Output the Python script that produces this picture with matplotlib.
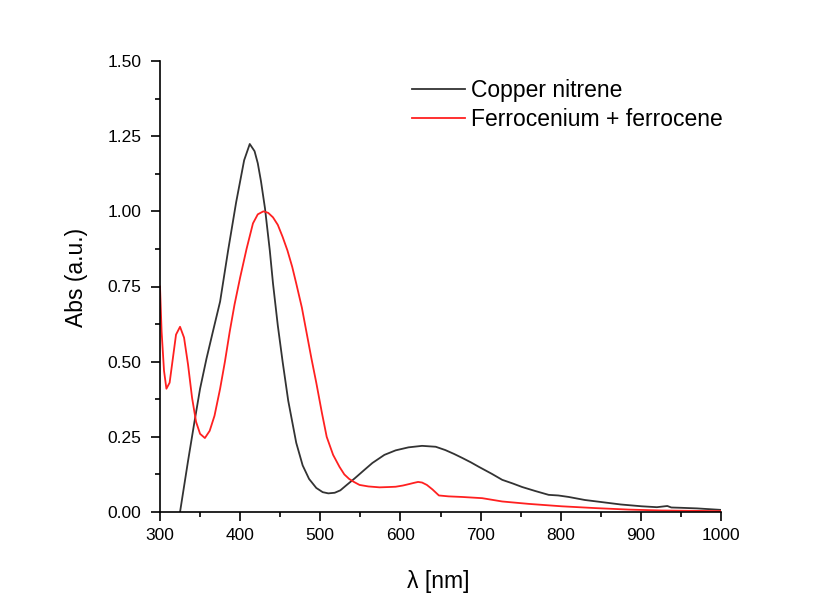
import numpy as np
import matplotlib
matplotlib.use("Agg")
import matplotlib.pyplot as plt
from matplotlib.ticker import MultipleLocator

plt.rcParams['font.family'] = ['Liberation Sans', 'DejaVu Sans']

# Copper nitrene
cu_nm = [320, 325, 335, 343, 350, 358, 366, 375, 385, 395, 400, 405, 412, 418, 422, 426,
         431, 437, 441, 447, 453, 460, 470, 478, 486, 495, 503, 510, 518, 525, 533, 543,
         555, 565, 580, 594, 610, 627, 644, 656, 667, 677, 688, 698, 714, 727, 740, 752,
         768, 785, 797, 810, 830, 851, 875, 901, 920, 933, 938, 950, 970, 994, 1000]
cu_abs = [-0.04, 0.0, 0.17, 0.30, 0.41, 0.51, 0.60, 0.70, 0.87, 1.03, 1.10, 1.17, 1.224, 1.20, 1.16, 1.10,
          1.01, 0.87, 0.76, 0.62, 0.50, 0.37, 0.23, 0.155, 0.11, 0.08, 0.066, 0.062, 0.064, 0.072, 0.09, 0.112,
          0.14, 0.163, 0.19, 0.205, 0.215, 0.22, 0.217, 0.206, 0.193, 0.18, 0.165, 0.15, 0.127, 0.107, 0.095, 0.083,
          0.07, 0.057, 0.055, 0.05, 0.04, 0.033, 0.025, 0.019, 0.016, 0.02, 0.015, 0.014, 0.012, 0.008, 0.007]

# Ferrocenium + ferrocene
fc_nm = [300, 302, 305, 308, 312, 316, 320, 325, 330, 335, 340, 345, 350, 356, 362, 368,
         375, 381, 387, 393, 400, 408, 416, 422, 429, 435, 441, 447, 453, 459, 465, 470,
         477, 483, 489, 495, 502, 508, 516, 524, 530, 536, 542, 549, 560, 574, 585, 594,
         603, 611, 617, 622, 627, 633, 640, 648, 660, 677, 702, 727, 760, 801, 843, 885,
         926, 960, 994, 1000]
fc_abs = [0.75, 0.60, 0.47, 0.41, 0.43, 0.51, 0.59, 0.616, 0.58, 0.49, 0.38, 0.30, 0.26, 0.246, 0.27, 0.32,
          0.41, 0.50, 0.60, 0.69, 0.78, 0.875, 0.96, 0.99, 1.0, 0.995, 0.98, 0.955, 0.915, 0.87, 0.815, 0.76,
          0.68, 0.595, 0.51, 0.43, 0.33, 0.25, 0.19, 0.15, 0.125, 0.11, 0.10, 0.09, 0.085, 0.082, 0.083, 0.084,
          0.088, 0.093, 0.097, 0.10, 0.098, 0.09, 0.075, 0.055, 0.052, 0.05, 0.046, 0.035, 0.027, 0.019, 0.013, 0.008,
          0.005, 0.004, 0.003, 0.003]

fig = plt.figure(figsize=(8.15, 6.1), dpi=100)
ax = fig.add_axes([160/815, 98/610, 561/815, 451/610])

ax.plot(cu_nm, cu_abs, color='#333333', lw=1.3, label='Copper nitrene')
ax.plot(fc_nm, fc_abs, color='#ff2020', lw=1.3, label='Ferrocenium + ferrocene')

ax.set_xlim(300, 1000)
ax.set_ylim(0, 1.5)
ax.xaxis.set_major_locator(MultipleLocator(100))
ax.xaxis.set_minor_locator(MultipleLocator(50))
ax.yaxis.set_major_locator(MultipleLocator(0.25))
ax.yaxis.set_minor_locator(MultipleLocator(0.125))
ax.yaxis.set_major_formatter(plt.FormatStrFormatter('%.2f'))

for s in ['top', 'right']:
    ax.spines[s].set_visible(False)
for s in ['left', 'bottom']:
    ax.spines[s].set_linewidth(1.2)
ax.tick_params(which='major', direction='out', length=6.8, width=1.2, labelsize=12.5)
ax.tick_params(which='minor', direction='out', length=3.6, width=1.2)
ax.tick_params(axis='x', which='major', pad=4.5)
ax.tick_params(axis='y', which='major', pad=6.5)

ax.set_xlabel('λ [nm]', fontsize=16.5)
ax.set_ylabel('Abs (a.u.)', fontsize=16.5)
ax.xaxis.set_label_coords(0.496, -0.129)
ax.yaxis.set_label_coords(-0.128, 0.52)

ax.legend(loc='upper left', bbox_to_anchor=(0.449, 0.960), frameon=False, fontsize=16.5,
          handlelength=2.3, handletextpad=0.3, borderpad=0, borderaxespad=0, labelspacing=0.25)

fig.savefig('out.png', dpi=100)
